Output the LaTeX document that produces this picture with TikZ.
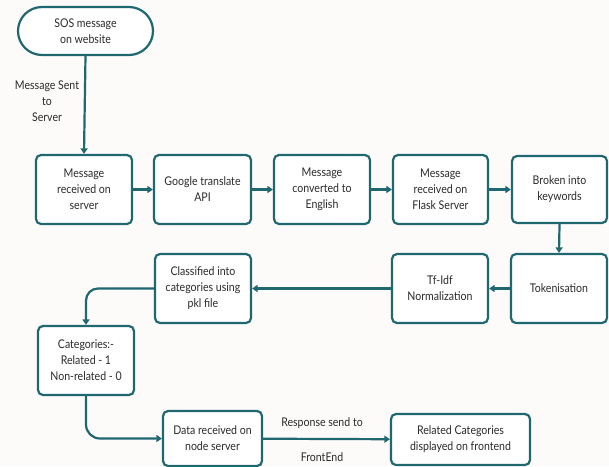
\documentclass[tikz,border=0pt]{standalone}
\usepackage{fontspec}
\setmainfont{Lato}[FakeStretch=0.88]
\usetikzlibrary{arrows.meta}
\definecolor{teal1}{HTML}{1F6870}
\definecolor{bgc}{HTML}{FDFAFA}
\definecolor{txt}{HTML}{2A2A2A}
\tikzset{
  box/.style={draw=teal1, line width=2.2pt, rounded corners=5pt, fill=white, align=center,
    font=\fontsize{12}{16}\selectfont, text=txt, inner sep=0pt},
  arr/.style={draw=teal1, line width=2.2pt, -{Triangle[width=7pt,length=5.5pt]}},
  lbl/.style={align=center, font=\fontsize{12}{16}\selectfont, text=txt}
}
\begin{document}
\begin{tikzpicture}[x=1pt,y=-1pt]
\fill[bgc] (0,0) rectangle (609,466);
\useasboundingbox (0,0) rectangle (609,466);
\node[box, rounded corners=24pt, minimum width=135pt, minimum height=48pt] (sos) at (85.5,31) {SOS message\\on website};
\node[box, minimum width=96pt, minimum height=69pt] (b1) at (84,189.5) {Message\\received on\\server};
\node[box, minimum width=97pt, minimum height=69pt] (b2) at (202.5,189.5) {Google translate\\API};
\node[box, minimum width=96pt, minimum height=69pt] (b3) at (322,189.5) {Message\\converted to\\English};
\node[box, minimum width=95pt, minimum height=69pt] (b4) at (440.5,189.5) {Message\\received on\\Flask Server};
\node[box, minimum width=95pt, minimum height=67pt] (b5) at (559.5,189.5) {Broken into\\keywords};
\node[box, minimum width=96pt, minimum height=69pt] (tok) at (559,288.5) {Tokenisation};
\node[box, minimum width=96pt, minimum height=69pt] (tfidf) at (440,288.5) {Tf-Idf\\Normalization};
\node[box, minimum width=96pt, minimum height=69pt] (cls) at (203,288.5) {Classified into\\categories using\\pkl file};
\node[box, minimum width=96pt, minimum height=69pt] (cat) at (86,360.5) {Categories:-\\Related - 1\\Non-related - 0};
\node[box, minimum width=99pt, minimum height=55pt] (data) at (212.5,438.5) {Data received on\\node server};
\node[box, minimum width=139pt, minimum height=51pt] (rel) at (460.5,439.5) {Related Categories\\displayed on frontend};

\draw[arr] (sos.south) -- (b1.north);
\node[lbl] (l1) at (47,101) {Message Sent\\to\\Server};
\draw[arr] (b1) -- (b2);
\draw[arr] (b2) -- (b3);
\draw[arr] (b3) -- (b4);
\draw[arr] (b4) -- (b5);
\draw[arr] (b5.south) -- (tok.north);
\draw[arr] (tok) -- (tfidf);
\draw[arr] (tfidf) -- (cls);
\draw[arr, rounded corners=12pt] (cls.west) -| (cat.north);
\draw[arr, rounded corners=14pt] (cat.south) |- (data.west);
\draw[arr] (data) -- (rel);
\node[lbl] (l2) at (322,423) {Response send to};
\node[lbl] (l3) at (322,457) {FrontEnd};
\end{tikzpicture}
\end{document}
